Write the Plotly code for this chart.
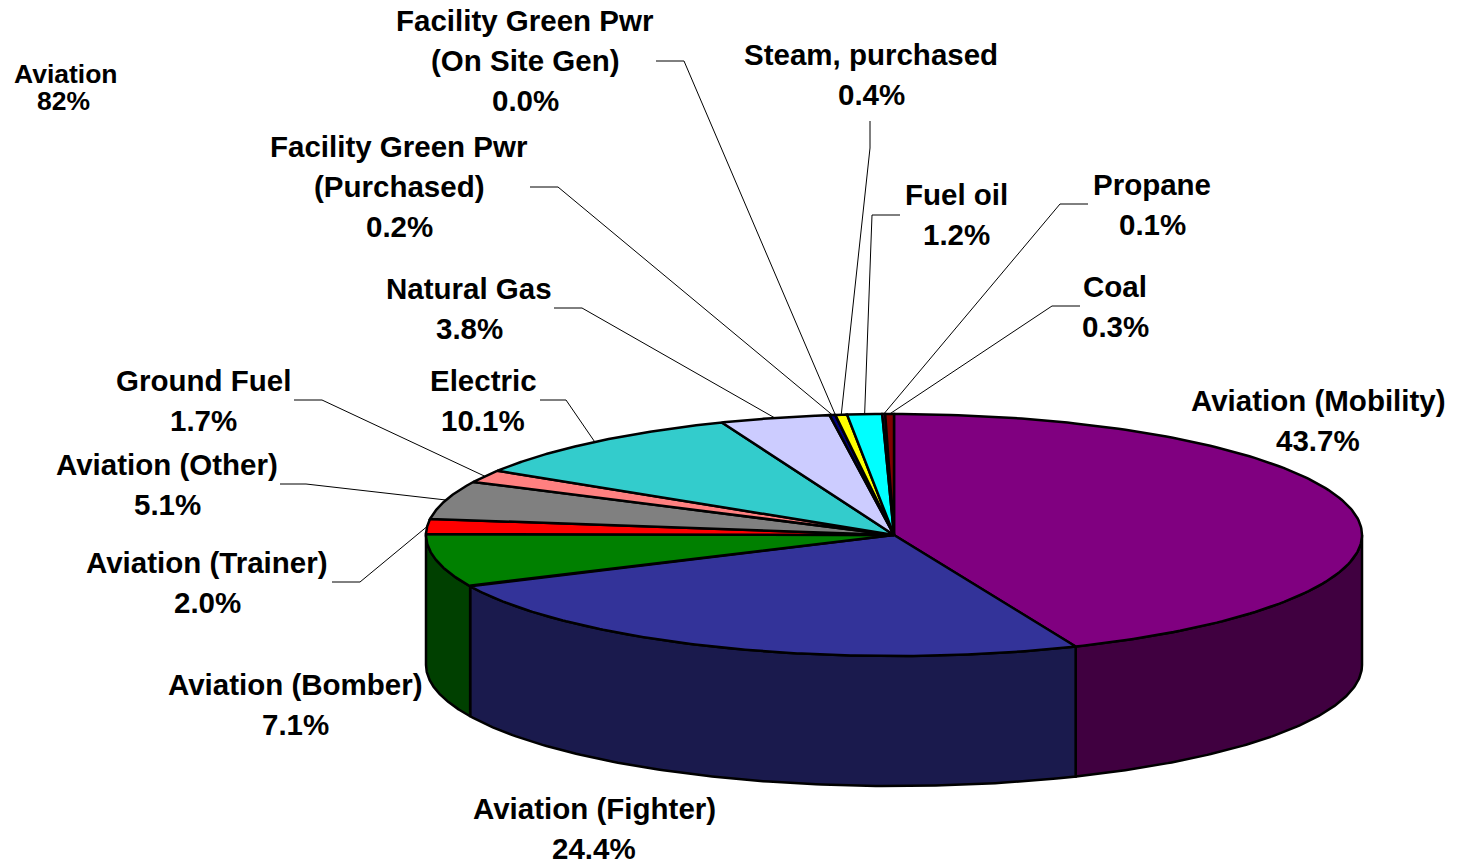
import numpy as np
import plotly.graph_objects as go

# shares, clockwise from 12 o'clock
names = ["Aviation (Mobility)", "Aviation (Fighter)", "Aviation (Bomber)", "Aviation (Trainer)",
         "Aviation (Other)", "Ground Fuel", "Electric", "Natural Gas",
         "Facility Green Pwr<br>(Purchased)", "Facility Green Pwr<br>(On Site Gen)",
         "Steam, purchased", "Fuel oil", "Propane", "Coal"]
values = [43.7, 24.4, 7.1, 2.0, 5.1, 1.7, 10.1, 3.8, 0.2, 0.0, 0.4, 1.2, 0.1, 0.3]
colors = ["#800080", "#333399", "#008000", "#FF0000", "#808080", "#FF8080", "#33CCCC", "#CCCCFF",
          "#000080", "#FFFFCC", "#FFFF00", "#00FFFF", "#800080", "#800000"]
wall_colors = ["#400040", "#1A1A4D", "#004000", "#800000", "#404040", "#804040", "#1A6666", "#666680",
               "#000040", "#808066", "#808000", "#008080", "#400040", "#400000"]

# label centre x, first line centre y
label_pos = [(1318, 400), (594, 808), (295, 684), (207, 562), (167, 464), (203, 380), (483, 380),
             (469, 288), (399, 146), (525, 20), (871, 54), (956, 194), (1152, 184), (1115, 286)]
# where the leader starts and its elbow, None = no leader
leaders = [None, None, None, ((332, 582), (360, 582)), ((280, 484), (306, 484)),
           ((294, 400), (322, 400)), ((540, 400), (566, 400)), ((554, 308), (582, 308)),
           ((530, 187), (558, 187)), ((656, 61), (684, 61)), ((870, 121), (870, 148)),
           ((900, 215), (872, 215)), ((1088, 204), (1060, 204)), ((1080, 306), (1052, 306))]

cx, cy, rx, ry, depth = 894, 535, 468, 121, 130
font_size = 29.5
line_gap = 40


def rim(deg):
    a = np.radians(deg)
    return cx + rx * np.sin(a), cy - ry * np.cos(a)


edges = np.cumsum([0] + values) / sum(values) * 360
fig = go.Figure()


def add_poly(x, y, color):
    fig.add_trace(go.Scatter(x=x, y=y, mode="lines", fill="toself", fillcolor=color,
                             line=dict(color="black", width=2.5), hoverinfo="skip", showlegend=False))


# side walls, only the front half shows
for i, c in enumerate(wall_colors):
    a0, a1 = max(edges[i], 90), min(edges[i + 1], 270)
    if a1 <= a0:
        continue
    xs, ys = rim(np.linspace(a0, a1, 120))
    add_poly(np.r_[xs, xs[::-1], xs[0]], np.r_[ys, ys[::-1] + depth, ys[0]], c)

# top of the pie
for i, c in enumerate(colors):
    xs, ys = rim(np.linspace(edges[i], edges[i + 1], 160))
    add_poly(np.r_[cx, xs, cx], np.r_[cy, ys, cy], c)

# leader lines end on the middle of their slice
for i, lead in enumerate(leaders):
    if lead is None:
        continue
    tx, ty = rim((edges[i] + edges[i + 1]) / 2)
    fig.add_trace(go.Scatter(x=[lead[0][0], lead[1][0], tx], y=[lead[0][1], lead[1][1], ty], mode="lines",
                             line=dict(color="black", width=1), hoverinfo="skip", showlegend=False))


def add_text(x, y, text, size):
    fig.add_annotation(x=x, y=y, text=f"<b>{text}</b>", showarrow=False, xanchor="center", yanchor="middle",
                       font=dict(family="Liberation Sans", size=size, color="black"))


for name, v, (lx, ly) in zip(names, values, label_pos):
    rows = name.split("<br>") + [f"{v:.1f}%"]
    for k, row in enumerate(rows):
        add_text(lx, ly + k * line_gap, row, font_size)

add_text(66, 74, "Aviation", 26.5)
add_text(63, 101, "82%", 26.5)

fig.update_layout(width=1464, height=863, margin=dict(l=0, r=0, t=0, b=0), autosize=False,
                  paper_bgcolor="white", plot_bgcolor="white", showlegend=False,
                  xaxis=dict(range=[0, 1464], visible=False, fixedrange=True),
                  yaxis=dict(range=[863, 0], visible=False, fixedrange=True))
# the page's default body margin would push everything 8px down and right
fig.write_html("out.html", config={"displayModeBar": False},
               post_script="document.body.style.margin='0';document.body.style.overflow='hidden';")
